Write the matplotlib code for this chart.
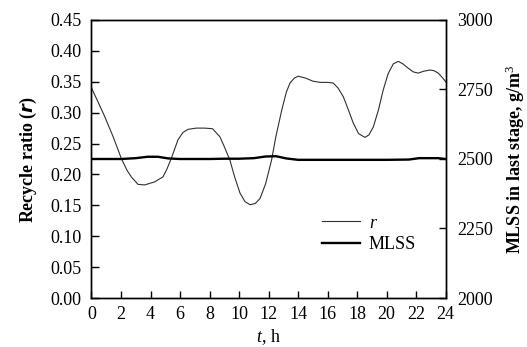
import matplotlib
matplotlib.use("Agg")
import matplotlib.pyplot as plt

plt.rcParams['font.family'] = ['Liberation Serif', 'DejaVu Serif']
plt.rcParams['mathtext.fontset'] = 'custom'
plt.rcParams['mathtext.rm'] = 'Liberation Serif'
plt.rcParams['mathtext.it'] = 'Liberation Serif:italic'
plt.rcParams['mathtext.bf'] = 'Liberation Serif:bold'

# Recycle ratio r (left axis)
t_r = [0, 0.45, 0.89, 1.45, 2.02, 2.4, 2.7, 3.15, 3.6, 4.28, 4.84, 5.1, 5.41, 5.86,
       6.2, 6.54, 7.1, 7.67, 8.2, 8.7, 9.0, 9.38, 9.7, 10.06, 10.4, 10.74, 11.1,
       11.42, 11.8, 12.2, 12.5, 12.89, 13.2, 13.45, 13.75, 14.01, 14.5, 15.0, 15.5,
       16.0, 16.38, 16.7, 17.06, 17.4, 17.74, 18.1, 18.53, 18.8, 19.1, 19.45, 19.77,
       20.1, 20.45, 20.79, 21.1, 21.46, 21.8, 22.14, 22.5, 22.93, 23.2, 23.5, 23.8, 24.0]
r_vals = [0.340, 0.317, 0.294, 0.262, 0.226, 0.207, 0.196, 0.184, 0.183, 0.188, 0.196,
          0.208, 0.226, 0.256, 0.268, 0.273, 0.275, 0.275, 0.274, 0.261, 0.245, 0.223,
          0.196, 0.170, 0.156, 0.151, 0.153, 0.161, 0.185, 0.223, 0.262, 0.304, 0.333,
          0.348, 0.356, 0.359, 0.356, 0.351, 0.349, 0.349, 0.348, 0.340, 0.326, 0.305,
          0.283, 0.266, 0.260, 0.264, 0.277, 0.305, 0.337, 0.363, 0.379, 0.383, 0.379,
          0.372, 0.366, 0.364, 0.367, 0.369, 0.368, 0.364, 0.356, 0.350]

# MLSS (right axis)
t_m = [0, 1, 2, 3, 3.8, 4.5, 5.2, 6, 7, 8, 9, 10, 11, 11.8, 12.5, 13.2, 14, 16, 18,
       20, 21.5, 22.2, 23.5, 24]
mlss_vals = [2500, 2500, 2500, 2503, 2508, 2508, 2502, 2500, 2500, 2500, 2501, 2501,
             2503, 2509, 2510, 2502, 2497, 2497, 2497, 2497, 2498, 2503, 2503, 2500]

x_ticks = list(range(0, 25, 2))
left_ticks = [0.00, 0.05, 0.10, 0.15, 0.20, 0.25, 0.30, 0.35, 0.40, 0.45]
right_ticks = [2000, 2250, 2500, 2750, 3000]

fig = plt.figure(figsize=(5.27, 3.47), dpi=100)
ax = fig.add_axes([0.1736, 0.1412, 0.6721, 0.8012])
ax2 = ax.twinx()

l1, = ax.plot(t_r, r_vals, color='#303030', lw=0.8)
l2, = ax2.plot(t_m, mlss_vals, color='black', lw=1.7)

ax.set_xlim(0, 24)
ax.set_ylim(0, 0.45)
ax2.set_ylim(2000, 3000)
ax.set_xticks(x_ticks)
ax.set_yticks(left_ticks)
ax.set_yticklabels([f"{v:.2f}" for v in left_ticks])
ax2.set_yticks(right_ticks)

fs = 13
ax.tick_params(axis='x', direction='in', length=5, width=1, labelsize=fs, pad=6)
ax.tick_params(axis='y', direction='in', length=6, width=1, labelsize=fs, pad=7)
ax2.tick_params(axis='y', direction='in', length=5, width=1, labelsize=fs, pad=8)
for a in (ax, ax2):
    for s in a.spines.values():
        s.set_linewidth(1.0)

ax.set_ylabel(r'Recycle ratio ($\mathbfit{r}$)', fontsize=fs, fontweight='bold', labelpad=8)
ax2.set_ylabel(r'MLSS in last stage, g/m$^3$', fontsize=fs, fontweight='bold', labelpad=8)
ax.set_xlabel(r'$\mathit{t}$, h', fontsize=fs, labelpad=3)

leg = ax2.legend([l1, l2], [r'$\mathit{r}$', 'MLSS'], loc='center left',
                 bbox_to_anchor=(0.625, 0.23), frameon=False, fontsize=fs,
                 borderpad=0, handlelength=2.1, handletextpad=0.5, labelspacing=0.25)

fig.savefig('out.png', dpi=100)
